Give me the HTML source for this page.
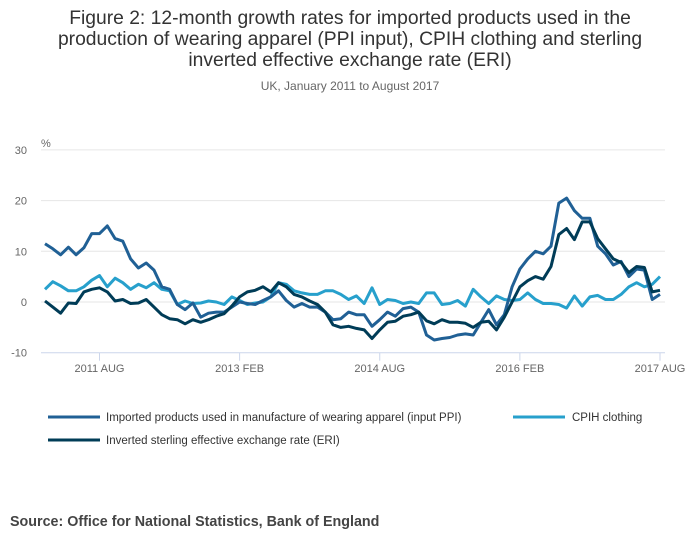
<!DOCTYPE html>
<html><head><meta charset="utf-8"><style>
body{margin:0;background:#fff;width:700px;height:549px;overflow:hidden;font-family:"Liberation Sans",sans-serif}
</style></head><body>
<svg width="700" height="549" xmlns="http://www.w3.org/2000/svg">
<g font-family="Liberation Sans, sans-serif" fill="#333" text-anchor="middle" font-size="19.3">
<text x="350" y="24">Figure 2: 12-month growth rates for imported products used in the</text>
<text x="350" y="45">production of wearing apparel (PPI input), CPIH clothing and sterling</text>
<text x="350" y="66">inverted effective exchange rate (ERI)</text>
</g>
<text x="350" y="90" text-anchor="middle" font-size="12" fill="#666">UK, January 2011 to August 2017</text>
<text x="41" y="147" font-size="11" fill="#666">%</text>
<g id="grid"></g>
<g id="series"></g>
<g>
<g><line x1="48" y1="417" x2="100" y2="417" stroke="#206095" stroke-width="3"/><text x="106" y="421" font-size="11.5" fill="#333">Imported products used in manufacture of wearing apparel (input PPI)</text></g>
<g><line x1="513" y1="417" x2="565" y2="417" stroke="#27a0cc" stroke-width="3"/><text x="572" y="421" font-size="11.5" fill="#333">CPIH clothing</text></g>
<g><line x1="48" y1="440" x2="100" y2="440" stroke="#003c57" stroke-width="3"/><text x="106" y="444" font-size="11.5" fill="#333">Inverted sterling effective exchange rate (ERI)</text></g>
</g>
<text x="10" y="526" font-size="14.3" font-weight="bold" fill="#444">Source: Office for National Statistics, Bank of England</text>
</svg>
<script>
const yTicks=[-10,0,10,20,30];
const xTickLabels=["2011 AUG","2013 FEB","2014 AUG","2016 FEB","2017 AUG"];
const xTickMonths=[7,25,43,61,79];
const ppi=[11.5,10.5,9.3,10.8,9.3,10.7,13.5,13.5,15,12.5,12,8.5,6.7,7.7,6.3,3,2.5,-0.5,-1.5,-0.2,-3,-2.2,-2,-2,-1,0,-0.3,-0.5,0.3,1,2.2,0.3,-1,-0.3,-1,-1,-2,-3.5,-3.3,-2,-2.5,-2.5,-4.8,-3.5,-2,-2.8,-1.3,-1,-2,-6.5,-7.5,-7.2,-7,-6.5,-6.3,-6.5,-4,-1.5,-4.5,-2.5,3,6.5,8.5,10,9.5,11,19.5,20.5,18,16.5,16.5,11,9.5,7.3,8,5,6.5,6.3,0.5,1.5];
const cpih=[2.5,4,3.2,2.2,2.2,3,4.3,5.2,3,4.7,3.8,2.5,3.5,2.8,3.8,2.5,2.2,-0.5,0.2,-0.3,-0.2,0.2,0,-0.5,1,0.3,-0.5,-0.2,0,1,3.8,3.5,2.2,1.8,1.5,1.5,2.2,2.2,1.5,0.5,1.2,-0.3,2.8,-0.5,0.5,0.3,-0.3,0,-0.3,1.8,1.8,-0.5,-0.3,0.3,-0.8,2.5,1,-0.3,1.2,0.5,0.3,0.5,1.8,0.5,-0.3,-0.3,-0.5,-1.2,1.2,-0.8,1,1.3,0.5,0.5,1.5,3,3.8,3,3.5,5];
const eri=[0.2,-1,-2.2,-0.2,-0.3,2,2.5,2.8,2,0.2,0.5,-0.3,-0.2,0.5,-1,-2.5,-3.3,-3.5,-4.3,-3.5,-4,-3.5,-2.8,-2.3,-0.8,1,2,2.3,3,2,3.8,3,1.5,1,0.2,-0.5,-2,-4.5,-5,-4.8,-5.2,-5.5,-7.2,-5.5,-4,-3.8,-2.8,-2.5,-2,-3.7,-4.3,-3.5,-4,-4,-4.2,-5,-4,-3.8,-5.5,-3,0,3,4.2,5,4.5,7,13.3,14.5,12.3,15.8,15.8,12.5,10.5,8.5,7.8,5.8,7,6.8,2,2.3];
const NS="http://www.w3.org/2000/svg";
const x0=45,x1=660,y0=302,pxU=5.07;
function X(m){return x0+(x1-x0)*m/79;}
function Y(v){return y0-v*pxU;}
const grid=document.getElementById('grid');
yTicks.forEach(v=>{
  const l=document.createElementNS(NS,'line');
  l.setAttribute('x1',41);l.setAttribute('x2',665);l.setAttribute('y1',Y(v));l.setAttribute('y2',Y(v));
  l.setAttribute('stroke',v===-10?'#ccd6eb':'#e6e6e6');l.setAttribute('stroke-width',1);
  
  
  grid.appendChild(l);
  const t=document.createElementNS(NS,'text');
  t.setAttribute('x',27);t.setAttribute('y',Y(v)+4);t.setAttribute('text-anchor','end');
  t.setAttribute('font-size','11');t.setAttribute('fill','#666');t.textContent=v;
  
  
  grid.appendChild(t);
});
xTickMonths.forEach((m,i)=>{
  const l=document.createElementNS(NS,'line');
  l.setAttribute('x1',X(m));l.setAttribute('x2',X(m));l.setAttribute('y1',Y(-10));l.setAttribute('y2',Y(-10)+8);
  l.setAttribute('stroke','#ccd6eb');
  
  
  grid.appendChild(l);
  const t=document.createElementNS(NS,'text');
  t.setAttribute('x',X(m));t.setAttribute('y',372);t.setAttribute('text-anchor','middle');
  t.setAttribute('font-size','11');t.setAttribute('fill','#666');t.textContent=xTickLabels[i];
  
  
  grid.appendChild(t);
});
const ser=document.getElementById('series');
[[cpih,'#27a0cc','cpih-line'],[ppi,'#206095','ppi-line'],[eri,'#003c57','eri-line']].forEach(s=>{
  const p=document.createElementNS(NS,'polyline');
  p.setAttribute('points',s[0].map((v,i)=>X(i).toFixed(1)+','+Y(v).toFixed(1)).join(' '));
  p.setAttribute('fill','none');p.setAttribute('stroke',s[1]);p.setAttribute('stroke-width',3);
  p.setAttribute('stroke-linejoin','round');
  
  
  ser.appendChild(p);
});
</script>
</body></html>
